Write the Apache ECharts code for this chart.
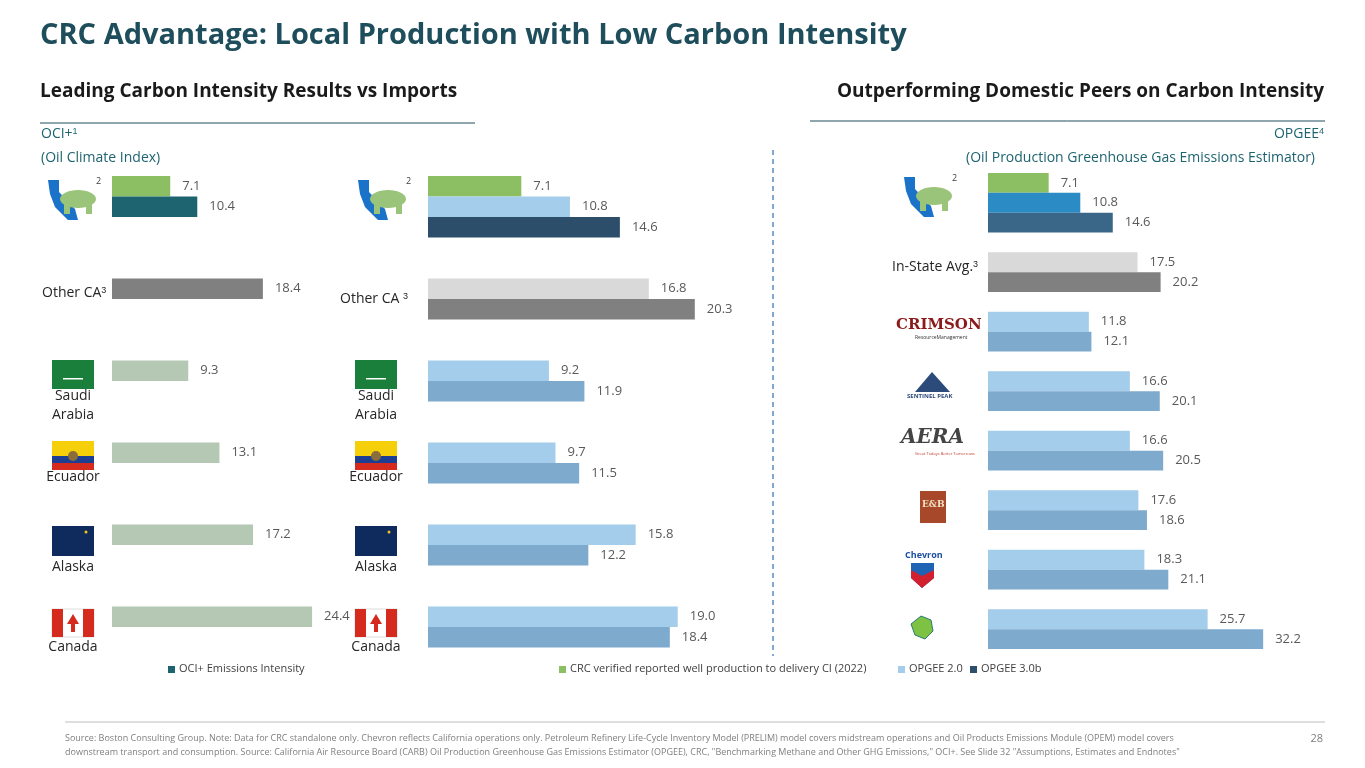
<!DOCTYPE html>
<html>
<head>
<meta charset="utf-8">
<script src="https://cdn.jsdelivr.net/npm/echarts@6/dist/echarts.min.js"></script>
<style>
  html, body { margin: 0; padding: 0; background: #fff; }
  #chart { width: 1365px; height: 768px; }
</style>
</head>
<body>
<div id="chart"></div>
<script>
// OCI+ chart: one list per group (bars in order)
const ociGroups = ['CRC', 'Other CA', 'Saudi Arabia', 'Ecuador', 'Alaska', 'Canada']
const ociValues = [[7.1, 10.4], [18.4], [9.3], [13.1], [17.2], [24.4]]
const ociColors = [['#8cbf64', '#1e6470'], ['#808080'], ['#b4c8b4'], ['#b4c8b4'], ['#b4c8b4'], ['#b4c8b4']]

// OPGEE import comparison
const impValues = [[7.1, 10.8, 14.6], [16.8, 20.3], [9.2, 11.9], [9.7, 11.5], [15.8, 12.2], [19.0, 18.4]]
const impColors = [['#8cbf64', '#a3cdea', '#2d4e6a'], ['#d9d9d9', '#808080'], ['#a3cdea', '#7eaacd'],
  ['#a3cdea', '#7eaacd'], ['#a3cdea', '#7eaacd'], ['#a3cdea', '#7eaacd']]

// Domestic peers
const peerGroups = ['CRC', 'In-State Avg.', 'Crimson', 'Sentinel Peak', 'Aera', 'E&B', 'Chevron', 'Peer']
const peerValues = [[7.1, 10.8, 14.6], [17.5, 20.2], [11.8, 12.1], [16.6, 20.1], [16.6, 20.5],
  [17.6, 18.6], [18.3, 21.1], [25.7, 32.2]]
const peerColors = [['#8cbf64', '#2b8bc4', '#3a6688'], ['#d9d9d9', '#808080']]
const peerDefault = ['#a3cdea', '#7eaacd']

const legendItems = [
  ['CRC verified reported well production to delivery CI (2022)', '#8cbf64', 559],
  ['OPGEE 2.0', '#a3cdea', 898],
  ['OPGEE 3.0b', '#2d4e6a', 970],
]

function buildSlots(values, colors, perGroup, fallback) {
  const n = values.length * perGroup
  const out = new Array(n).fill(null)
  values.forEach((grp, g) => {
    const start = g * perGroup + (g === 0 ? 0 : 1)
    grp.forEach((v, i) => {
      const c = (colors[g] || fallback)[i]
      out[start + i] = { value: v, itemStyle: { color: c } }
    })
  })
  return out
}

const d1 = buildSlots(ociValues, ociColors, 4)
const d2 = buildSlots(impValues, impColors, 4)
const d3 = buildSlots(peerValues, peerColors, 3, peerDefault)

const chart = echarts.init(document.getElementById('chart'))
const label = { show: true, position: 'right', distance: 12, color: '#595959', fontSize: 13,
  fontFamily: 'Open Sans', formatter: (p) => p.value.toFixed(1) }

function yAxis(idx, n) {
  return { type: 'category', gridIndex: idx, data: Array.from({ length: n }, (_, i) => i), inverse: true,
    show: false }
}
function xAxis(idx, max) {
  return { type: 'value', gridIndex: idx, min: 0, max, show: false }
}

const sup = { s: { fontSize: 9, verticalAlign: 'top', fill: '#262626' } }
const graphics = [
  { type: 'text', left: 40, top: 21, style: { text: 'CRC Advantage: Local Production with Low Carbon Intensity',
    font: 'bold 29px "Open Sans"', fill: '#1e4d5c' } },
  { type: 'text', left: 40, top: 82, style: { text: 'Leading Carbon Intensity Results vs Imports',
    font: 'bold 19px "Open Sans"', fill: '#1a1a1a' } },
  { type: 'text', right: 41, top: 82, style: { text: 'Outperforming Domestic Peers on Carbon Intensity',
    font: 'bold 19px "Open Sans"', fill: '#1a1a1a' } },
  { type: 'line', shape: { x1: 40, y1: 123, x2: 475, y2: 123 }, style: { stroke: '#1e4d5c', lineWidth: 1 } },
  { type: 'line', shape: { x1: 810, y1: 121, x2: 1325, y2: 121 }, style: { stroke: '#1e4d5c', lineWidth: 1 } },
  { type: 'line', shape: { x1: 773, y1: 150, x2: 773, y2: 656 }, style: { stroke: '#2f6fb5', lineWidth: 1.2, lineDash: [5, 4] } },
  { type: 'text', left: 41, top: 127, style: { text: 'OCI+{s|1}', font: '14px "Open Sans"', fill: '#1e6470',
    rich: { s: { fontSize: 9, verticalAlign: 'top', fill: '#1e6470' } } } },
  { type: 'text', left: 41, top: 151, style: { text: '(Oil Climate Index)', font: '14px "Open Sans"', fill: '#1e6470' } },
  { type: 'text', right: 41, top: 127, style: { text: 'OPGEE{s|4}', font: '14px "Open Sans"', fill: '#1e6470',
    rich: { s: { fontSize: 9, verticalAlign: 'top', fill: '#1e6470' } } } },
  { type: 'text', right: 50, top: 151, style: { text: '(Oil Production Greenhouse Gas Emissions Estimator)',
    font: '14px "Open Sans"', fill: '#1e6470' } },
  { type: 'line', shape: { x1: 65, y1: 722, x2: 1325, y2: 722 }, style: { stroke: '#bfbfbf', lineWidth: 1 } },
  { type: 'text', left: 65, top: 731, style: { text: 'Source: Boston Consulting Group. Note: Data for CRC standalone only. Chevron reflects California operations only. Petroleum Refinery Life-Cycle Inventory Model (PRELIM) model covers midstream operations and Oil Products Emissions Module (OPEM) model covers\ndownstream transport and consumption. Source: California Air Resource Board (CARB) Oil Production Greenhouse Gas Emissions Estimator (OPGEE), CRC, "Benchmarking Methane and Other GHG Emissions," OCI+. See Slide 32 "Assumptions, Estimates and Endnotes"',
    font: '9px "Open Sans"', fill: '#7f7f7f', lineHeight: 14 } },
  { type: 'text', right: 42, top: 733, style: { text: '28', font: '11px "Open Sans"', fill: '#7f7f7f' } },
  { type: 'rect', shape: { x: 168, y: 666, width: 7, height: 7 }, style: { fill: '#1e6470' } },
  { type: 'text', left: 179, top: 663, style: { text: 'OCI+ Emissions Intensity', font: '11px "Open Sans"', fill: '#404040' } },
]
legendItems.forEach(([t, c, x]) => {
  graphics.push({ type: 'rect', shape: { x, y: 666, width: 7, height: 7 }, style: { fill: c } })
  graphics.push({ type: 'text', left: x + 11, top: 663, style: { text: t, font: '11px "Open Sans"', fill: '#404040' } })
})

// CA logo (simple shape)
function caLogo(x, y) {
  graphics.push({ type: 'polygon', shape: { points: [[x, y], [x + 11, y], [x + 11, y + 12], [x + 27, y + 29],
    [x + 30, y + 40], [x + 20, y + 40], [x + 7, y + 27], [x + 2, y + 14]] }, style: { fill: '#1a73c9' } })
  graphics.push({ type: 'ellipse', shape: { cx: x + 30, cy: y + 19, rx: 18, ry: 9 }, style: { fill: '#9ac47a' } })
  graphics.push({ type: 'rect', shape: { x: x + 16, y: y + 24, width: 6, height: 10 }, style: { fill: '#9ac47a' } })
  graphics.push({ type: 'rect', shape: { x: x + 38, y: y + 24, width: 6, height: 10 }, style: { fill: '#9ac47a' } })
  graphics.push({ type: 'text', left: x + 48, top: y - 3, style: { text: '2', font: '9px "Open Sans"', fill: '#404040' } })
}
caLogo(48, 180); caLogo(358, 180); caLogo(904, 177)

function centered(cx, y, t) {
  graphics.push({ type: 'text', x: cx, y, style: { text: t, font: '14px "Open Sans"', fill: '#262626',
    align: 'center', verticalAlign: 'top', lineHeight: 19 } })
}
graphics.push({ type: 'text', left: 42, top: 286, style: { text: 'Other CA{s|3}', font: '14px "Open Sans"', fill: '#262626', rich: sup } })
graphics.push({ type: 'text', left: 340, top: 292, style: { text: 'Other CA {s|3}', font: '14px "Open Sans"', fill: '#262626', rich: sup } })
graphics.push({ type: 'text', left: 892, top: 260, style: { text: 'In-State Avg.{s|3}', font: '14px "Open Sans"', fill: '#262626', rich: sup } })

function flags(cx) {
  graphics.push({ type: 'rect', shape: { x: cx - 21, y: 360, width: 42, height: 29 }, style: { fill: '#1a7f3a' } })
  graphics.push({ type: 'rect', shape: { x: cx - 10, y: 378, width: 20, height: 1.5 }, style: { fill: '#fff' } })
  graphics.push({ type: 'rect', shape: { x: cx - 21, y: 441, width: 42, height: 15 }, style: { fill: '#f5d00a' } })
  graphics.push({ type: 'rect', shape: { x: cx - 21, y: 456, width: 42, height: 7 }, style: { fill: '#1c3f94' } })
  graphics.push({ type: 'rect', shape: { x: cx - 21, y: 463, width: 42, height: 7 }, style: { fill: '#d52b1e' } })
  graphics.push({ type: 'circle', shape: { cx, cy: 456, r: 5 }, style: { fill: '#8a6d3b' } })
  graphics.push({ type: 'rect', shape: { x: cx - 21, y: 526, width: 42, height: 30 }, style: { fill: '#0f2a5c' } })
  graphics.push({ type: 'circle', shape: { cx: cx + 13, cy: 532, r: 1.5 }, style: { fill: '#f5c518' } })
  graphics.push({ type: 'rect', shape: { x: cx - 21, y: 609, width: 42, height: 28 }, style: { fill: '#fff', stroke: '#ddd' } })
  graphics.push({ type: 'rect', shape: { x: cx - 21, y: 609, width: 11, height: 28 }, style: { fill: '#d52b1e' } })
  graphics.push({ type: 'rect', shape: { x: cx + 10, y: 609, width: 11, height: 28 }, style: { fill: '#d52b1e' } })
  graphics.push({ type: 'polygon', shape: { points: [[cx, 614], [cx + 6, 624], [cx + 2, 624], [cx + 2, 632], [cx - 2, 632], [cx - 2, 624], [cx - 6, 624]] }, style: { fill: '#d52b1e' } })
  centered(cx, 387, 'Saudi\nArabia')
  centered(cx, 468, 'Ecuador')
  centered(cx, 558, 'Alaska')
  centered(cx, 638, 'Canada')
}
flags(73); flags(376)

// company logos (text marks)
graphics.push({ type: 'text', left: 896, top: 318, style: { text: 'CRIMSON', font: 'bold 15px "DejaVu Serif"', fill: '#8b1a1a' } })
graphics.push({ type: 'text', left: 915, top: 335, style: { text: 'ResourceManagement', font: '5px "Open Sans"', fill: '#333' } })
graphics.push({ type: 'polygon', shape: { points: [[915, 392], [932, 372], [950, 392]] }, style: { fill: '#2c4a7a' } })
graphics.push({ type: 'text', left: 907, top: 393, style: { text: 'SENTINEL PEAK', font: 'bold 6px "Open Sans"', fill: '#2c4a7a' } })
graphics.push({ type: 'text', left: 901, top: 428, style: { text: 'AERA', font: 'italic bold 20px "DejaVu Serif"', fill: '#444' } })
graphics.push({ type: 'text', left: 915, top: 452, style: { text: 'Great Todays Better Tomorrows', font: '4px "Open Sans"', fill: '#c0392b' } })
graphics.push({ type: 'rect', shape: { x: 920, y: 491, width: 26, height: 32 }, style: { fill: '#a8482a' } })
graphics.push({ type: 'text', left: 922, top: 500, style: { text: 'E&B', font: 'bold 9px "DejaVu Serif"', fill: '#f2e3c6' } })
graphics.push({ type: 'text', left: 905, top: 551, style: { text: 'Chevron', font: 'bold 9px "Open Sans"', fill: '#1e4fa0' } })
graphics.push({ type: 'polygon', shape: { points: [[911, 563], [934, 563], [934, 578], [922, 588], [911, 578]] }, style: { fill: '#1e63b4' } })
graphics.push({ type: 'polygon', shape: { points: [[911, 570], [922, 576], [934, 570], [934, 578], [922, 588], [911, 578]] }, style: { fill: '#d3202f' } })
graphics.push({ type: 'polygon', shape: { points: [[921, 616], [931, 620], [933, 631], [925, 639], [915, 635], [911, 624]] }, style: { fill: '#7dc242', stroke: '#2a7a78', lineWidth: 1 } })

chart.setOption({
  animation: false,
  grid: [
    { left: 112, top: 176, width: 205, height: 492 },
    { left: 428, top: 176, width: 276, height: 492 },
    { left: 988, top: 173, width: 282, height: 476 },
  ],
  xAxis: [xAxis(0, 25), xAxis(1, 21), xAxis(2, 33)],
  yAxis: [yAxis(0, d1.length), yAxis(1, d2.length), yAxis(2, d3.length)],
  series: [
    { type: 'bar', xAxisIndex: 0, yAxisIndex: 0, data: d1, barWidth: '100%', label },
    { type: 'bar', xAxisIndex: 1, yAxisIndex: 1, data: d2, barWidth: '100%', label },
    { type: 'bar', xAxisIndex: 2, yAxisIndex: 2, data: d3, barWidth: '100%', label },
  ],
  graphic: graphics,
})
</script>
</body>
</html>
